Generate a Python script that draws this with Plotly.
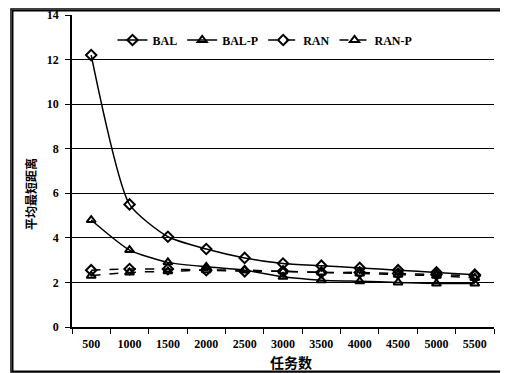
import plotly.graph_objects as go

tasks = ["500", "1000", "1500", "2000", "2500", "3000", "3500", "4000", "4500", "5000", "5500"]
bal = [12.2, 5.5, 4.05, 3.5, 3.1, 2.85, 2.75, 2.65, 2.55, 2.45, 2.35]
bal_p = [4.8, 3.45, 2.9, 2.7, 2.55, 2.25, 2.1, 2.05, 2.0, 1.95, 1.95]
ran = [2.55, 2.6, 2.6, 2.55, 2.5, 2.5, 2.45, 2.45, 2.4, 2.35, 2.3]
ran_p = [2.3, 2.45, 2.5, 2.55, 2.55, 2.5, 2.45, 2.4, 2.35, 2.3, 2.2]
y_ticks = [0, 2, 4, 6, 8, 10, 12, 14]

series = [
    ("BAL", bal, "solid", "diamond-open"),
    ("BAL-P", bal_p, "solid", "triangle-up-open"),
    ("RAN", ran, "dash", "diamond-open"),
    ("RAN-P", ran_p, "dash", "triangle-up-open"),
]

fig = go.Figure()
for name, vals, dash, sym in series:
    fig.add_trace(go.Scatter(
        x=tasks, y=vals, name=name, mode="lines+markers",
        line=dict(color="black", width=1.5, dash=dash, shape="spline", smoothing=0.6),
        marker=dict(symbol=sym, size=8, color="black", line=dict(width=2, color="black")),
    ))

serif = "Liberation Serif, DejaVu Serif, serif"
cjk = "Noto Sans CJK SC"
W, H = 500, 365

def px(x):
    return x / W

def py(y):
    return 1 - y / H

fig.update_layout(
    width=W, height=H,
    margin=dict(l=0, r=0, t=0, b=0, autoexpand=False),
    paper_bgcolor="white", plot_bgcolor="white",
    font=dict(family=serif, size=11, color="black"),
    showlegend=True,
    legend=dict(orientation="h", x=px(257), y=py(32), xanchor="center", yanchor="middle",
                bgcolor="rgba(0,0,0,0)", font=dict(family=serif, size=12, color="black", weight="bold"),
                tracegroupgap=0),
    xaxis=dict(
        domain=[px(64), px(486)],
        type="category", range=[-0.5, 10.5], tickson="boundaries",
        ticks="outside", ticklen=5, tickcolor="black",
        showline=True, linecolor="black", linewidth=1.5, showgrid=False,
        tickfont=dict(family=serif, size=12, color="black", weight="bold"),
        ticklabelstandoff=5, automargin=False,
    ),
    yaxis=dict(
        domain=[py(319), py(7)],
        range=[0, 14], tickvals=y_ticks, ticks="outside", ticklen=5, tickcolor="black",
        showline=True, linecolor="black", linewidth=1.5,
        showgrid=True, gridcolor="black", gridwidth=1, zeroline=False,
        tickfont=dict(family=serif, size=12, color="black", weight="bold"),
        ticklabelstandoff=4, automargin=False,
    ),
    annotations=[
        dict(text="任务数", xref="paper", yref="paper", x=px(283), y=py(354),
             xanchor="center", yanchor="middle", showarrow=False,
             font=dict(family=cjk, size=14, color="black", weight="bold")),
        dict(text="平均最短距离", xref="paper", yref="paper", x=px(22), y=py(186),
             xanchor="center", yanchor="middle", showarrow=False, textangle=-90,
             font=dict(family=cjk, size=12, color="black", weight="bold")),
        dict(text="&nbsp;", xref="paper", yref="paper", x=px(251), y=py(182.5),
             xanchor="center", yanchor="middle", showarrow=False,
             width=492, height=359, borderpad=0, borderwidth=1.5, bordercolor="black",
             bgcolor="rgba(0,0,0,0)", font=dict(size=8)),
    ],
    shapes=[dict(type="rect", xref="paper", yref="paper",
                 x0=px(3), x1=px(499), y0=py(364), y1=py(1),
                 line=dict(color="black", width=1.5), fillcolor="rgba(0,0,0,0)", layer="below")],
)
fig.write_html("out.html")
